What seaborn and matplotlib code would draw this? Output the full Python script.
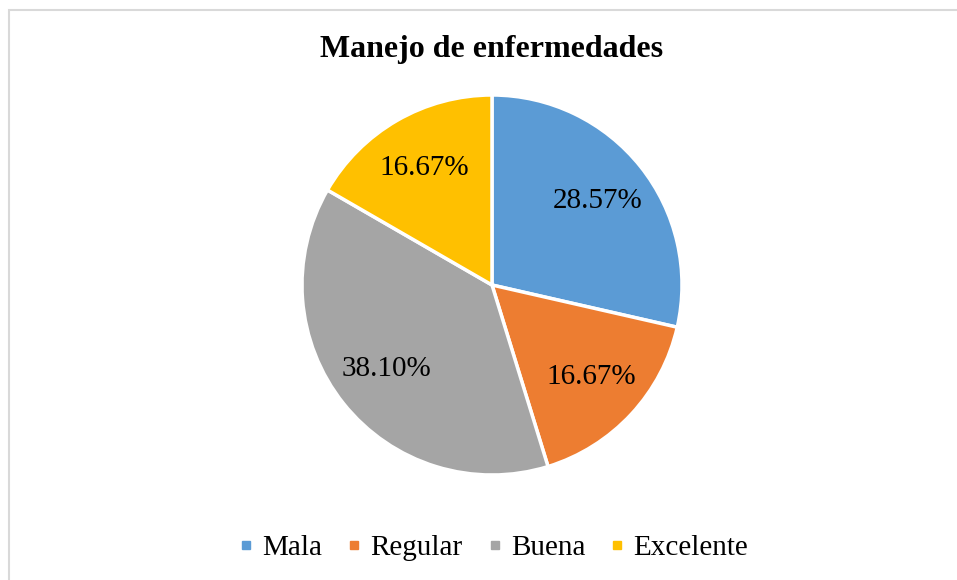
import matplotlib
matplotlib.use("Agg")
import matplotlib.pyplot as plt
from matplotlib.lines import Line2D
import seaborn as sns

# Data
categories = ["Mala", "Regular", "Buena", "Excelente"]
values = [28.57, 16.67, 38.10, 16.67]
colors = ["#5B9BD5", "#ED7D31", "#A5A5A5", "#FFC000"]
title = "Manejo de enfermedades"

sns.set_style("white")
plt.rcParams["font.family"] = ["Liberation Serif", "DejaVu Serif"]
plt.rcParams["text.color"] = "black"

W, H = 957, 580
fig = plt.figure(figsize=(W / 100, H / 100), dpi=100)

# light frame (top and left edges visible, rest runs off the image)
frame = plt.Rectangle((9 / W, -0.1), 1.1, 1 - 10 / H + 0.1, transform=fig.transFigure,
                      fill=False, edgecolor="#D9D9D9", linewidth=1.5)
fig.patches.append(frame)

# Pie axes: center (492, 285), radius 190 px
cx, cy, r = 492, 285, 190
ax = fig.add_axes([(cx - r) / W, 1 - (cy + r) / H, 2 * r / W, 2 * r / H])
wedges, texts, autotexts = ax.pie(
    values, colors=colors, startangle=90, counterclock=False,
    autopct=lambda p: f"{p:.2f}%", pctdistance=0.71, radius=1,
    wedgeprops=dict(edgecolor="white", linewidth=2.5),
    textprops=dict(fontsize=21, color="black"))
ax.set_xlim(-1, 1)
ax.set_ylim(-1, 1)
ax.set_aspect("equal")
ax.axis("off")

fig.text(cx / W, 1 - 50 / H, title, ha="center", va="center",
         fontsize=23, fontweight="bold", color="black")

# square legend markers
handles = [Line2D([], [], linestyle="none", marker="s", markersize=6,
                  markerfacecolor=c, markeredgecolor=c) for c in colors]
fig.legend(handles, categories, loc="center", bbox_to_anchor=(495 / W, 1 - 548 / H),
           ncol=4, frameon=False, fontsize=21, handlelength=0.3,
           handletextpad=0.4, columnspacing=0.95)

fig.savefig("out.png", dpi=100)
